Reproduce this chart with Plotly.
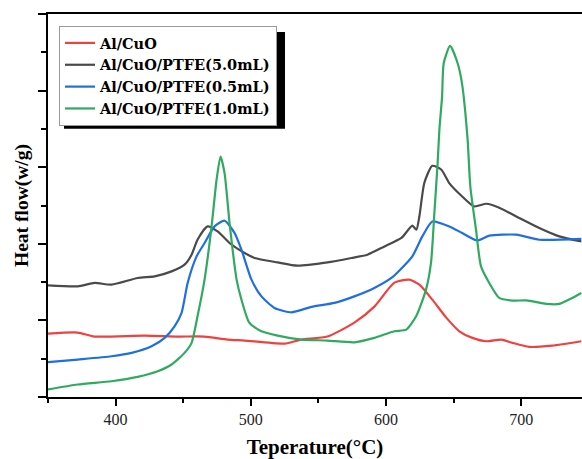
import plotly.graph_objects as go

# Temperature (°C) and heat flow (arbitrary units)
t_alcuo = [350, 372, 384.5, 421.5, 445.8, 465.8, 482.8, 495.4, 525, 537.4, 556.7, 576.6, 591.4,
           606.2, 617.3, 624.7, 634.3, 644.6, 654.3, 663.9, 674.3, 685.3, 693.5, 706, 723, 744.5]
hf_alcuo = [0.828, 0.841, 0.789, 0.802, 0.789, 0.789, 0.750, 0.737, 0.697, 0.750, 0.789, 0.971, 1.180,
            1.493, 1.532, 1.467, 1.271, 1.036, 0.858, 0.772, 0.728, 0.750, 0.707, 0.654, 0.671, 0.728]

t_ptfe50 = [350, 372, 384.5, 397, 416.3, 428.9, 441.4, 451, 456.2, 460.6, 468, 475.4, 485.8, 495.4,
            502.8, 519.8, 534.6, 556.7, 574.5, 586.3, 598.9, 611.4, 619.5, 622.5, 624.7, 628.4,
            634.3, 641, 646.8, 656.4, 665.3, 674.3, 683.8, 696.4, 713.4, 728.2, 744.5]
hf_ptfe50 = [1.458, 1.445, 1.489, 1.467, 1.554, 1.575, 1.640, 1.728, 1.858, 2.053, 2.227, 2.162, 1.988, 1.880,
             1.815, 1.757, 1.714, 1.757, 1.815, 1.858, 1.966, 2.076, 2.236, 2.184, 2.357, 2.797,
             3.018, 2.966, 2.793, 2.618, 2.488, 2.523, 2.471, 2.357, 2.206, 2.097, 2.031]

t_ptfe05 = [350, 372, 397, 411.9, 426.6, 436.3, 443.6, 448.8, 453.3, 459.9, 465.8, 473.2, 480.6, 488,
            493.1, 500.5, 507.9, 517.5, 530.1, 544.9, 561.9, 576.6, 591.4, 604, 609.8, 619.5, 626.9,
            634.3, 646.8, 656.4, 667.5, 676.4, 696.4, 713.4, 744.5]
hf_ptfe05 = [0.454, 0.489, 0.532, 0.576, 0.662, 0.772, 0.923, 1.098, 1.489, 1.836, 2.010, 2.227, 2.301, 2.141,
             1.923, 1.532, 1.314, 1.163, 1.106, 1.176, 1.228, 1.314, 1.424, 1.554, 1.649, 1.836, 2.097,
             2.292, 2.227, 2.141, 2.044, 2.106, 2.119, 2.053, 2.063]

t_ptfe10 = [350, 372, 397, 416.3, 431.1, 441.4, 451, 456.2, 460.6, 465.8, 471, 474.7, 477.6, 480.6,
            484.3, 489.5, 493.1, 499, 507.9, 519.8, 537.4, 556.7, 576.6, 591.4, 606.2, 615,
            622.3, 629.6, 633.3, 635.8, 638.2, 639.5, 641.5, 642.7, 647.4, 653, 656.2, 660.4,
            662.4, 666.6, 670.3, 676.4, 683.8, 693.5, 703.8, 718.6, 728.2, 737.8, 744.5]
hf_ptfe10 = [0.098, 0.163, 0.206, 0.263, 0.336, 0.424, 0.576, 0.707, 1.053, 1.532, 2.227, 2.836, 3.139, 2.923,
             2.271, 1.532, 1.271, 0.967, 0.858, 0.802, 0.750, 0.737, 0.714, 0.772, 0.858, 0.880,
             1.053, 1.402, 1.750, 2.402, 3.053, 3.488, 3.922, 4.357, 4.583, 4.357, 4.097, 3.357,
             2.748, 2.184, 1.705, 1.489, 1.293, 1.258, 1.262, 1.215, 1.215, 1.293, 1.358]

names = ["Al/CuO", "Al/CuO/PTFE(5.0mL)", "Al/CuO/PTFE(0.5mL)", "Al/CuO/PTFE(1.0mL)"]
colors = ["#f04040", "#4a4a4a", "#1f6fe0", "#2faa60"]
xs = [t_alcuo, t_ptfe50, t_ptfe05, t_ptfe10]
ys = [hf_alcuo, hf_ptfe50, hf_ptfe05, hf_ptfe10]

xtick_vals = [400, 500, 600, 700]

fig = go.Figure()
for n, c, x, y in zip(names, colors, xs, ys):
    fig.add_trace(go.Scatter(x=x, y=y, mode="lines", name=n,
                             line=dict(color=c, width=2.2, shape="spline", smoothing=0.6)))

W, H = 582, 459
L, R, T, B = 48, 0, 14, 61.5
pw, ph = W - L - R, H - T - B

def px(xp):
    return (xp - L) / pw

def py(yp):
    return (H - B - yp) / ph

# legend shadow
fig.add_shape(type="rect", xref="paper", yref="paper",
              x0=px(64), x1=px(285), y0=py(129), y1=py(32),
              fillcolor="black", line=dict(width=0), layer="above")

fig.update_layout(
    width=W, height=H,
    margin=dict(l=L, r=R, t=T, b=B),
    plot_bgcolor="white", paper_bgcolor="white",
    font=dict(family="Liberation Serif", color="#222"),
    showlegend=True,
    legend=dict(x=px(59), y=py(26), xanchor="left", yanchor="top",
                bgcolor="white", bordercolor="#999", borderwidth=1,
                font=dict(family="DejaVu Serif", size=14.5, color="black", weight="bold"),
                tracegroupgap=0, itemwidth=30),
    xaxis=dict(range=[350, 745], tickvals=xtick_vals, ticks="outside", ticklen=7, tickwidth=2,
               tickcolor="black", showline=True, linecolor="black", linewidth=2, mirror=True,
               showgrid=False, zeroline=False, tickfont=dict(size=16, color="#222"),
               minor=dict(tickvals=[350, 450, 550, 650], ticks="outside", ticklen=4, tickwidth=2,
                          tickcolor="black"),
               title=dict(text="Teperature(°C)", font=dict(size=21, color="black", weight="bold"),
                          standoff=12)),
    yaxis=dict(range=[0, 5], dtick=1, ticks="outside", ticklen=8, tickwidth=2, tickcolor="black",
               showline=True, linecolor="black", linewidth=2, showgrid=False, zeroline=False,
               showticklabels=False,
               minor=dict(dtick=0.5, ticks="outside", ticklen=5, tickwidth=2, tickcolor="black"),
               title=dict(text="Heat flow(w/g)", font=dict(size=19.5, color="black", weight="bold"),
                          standoff=4)),
)

fig.write_html("out.html", config={"displayModeBar": False},
               post_script="document.body.style.margin='0';document.body.style.overflow='hidden';")
